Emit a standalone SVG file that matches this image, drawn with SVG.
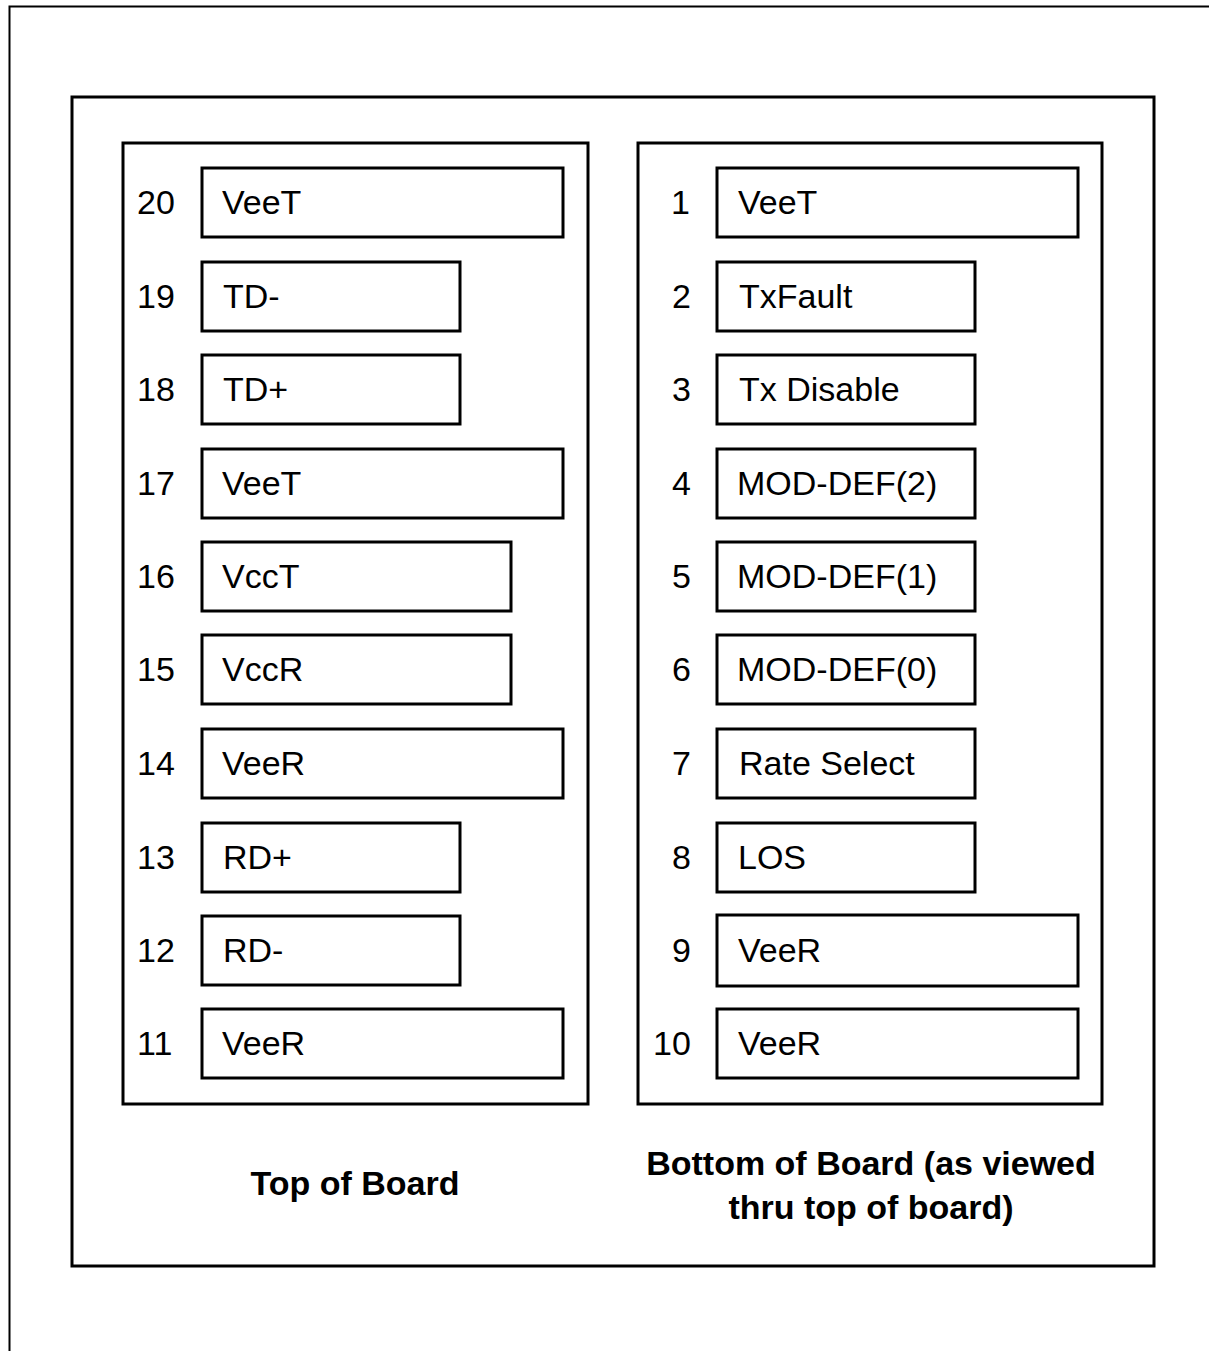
<svg xmlns="http://www.w3.org/2000/svg" width="1209" height="1351" viewBox="0 0 1209 1351">
<style>
.frame{fill:none;stroke:#000;stroke-width:3}
.pin{fill:#fff;stroke:#000;stroke-width:3}
.t{font-family:"Liberation Sans",Arial,sans-serif;font-size:34px;fill:#000}
.cap{font-family:"Liberation Sans",Arial,sans-serif;font-size:34px;font-weight:bold;fill:#000;text-anchor:middle}
</style>
<rect width="1209" height="1351" fill="#fff"/>
<path d="M9.5,1351 V6.5 H1209" fill="none" stroke="#000" stroke-width="2"/>
<rect class="frame" x="72" y="97" width="1082" height="1169"/>
<g id="top-board">
<rect class="frame" x="123" y="143" width="465" height="961"/>
<text class="cap" x="355" y="1195">Top of Board</text>
</g>
<g id="bottom-board">
<rect class="frame" x="638" y="143" width="464" height="961"/>
<text class="cap" x="871" y="1175">Bottom of Board (as viewed</text>
<text class="cap" x="871" y="1219">thru top of board)</text>
</g>
<g id="pin20"><rect class="pin" x="202" y="168" width="361" height="69"/><text class="t" x="137" y="214">20</text><text class="t" x="222" y="214">VeeT</text></g>
<g id="pin19"><rect class="pin" x="202" y="262" width="258" height="69"/><text class="t" x="137" y="308">19</text><text class="t" x="223" y="308">TD-</text></g>
<g id="pin18"><rect class="pin" x="202" y="355" width="258" height="69"/><text class="t" x="137" y="401">18</text><text class="t" x="223" y="401">TD+</text></g>
<g id="pin17"><rect class="pin" x="202" y="449" width="361" height="69"/><text class="t" x="137" y="495">17</text><text class="t" x="222" y="495">VeeT</text></g>
<g id="pin16"><rect class="pin" x="202" y="542" width="309" height="69"/><text class="t" x="137" y="588">16</text><text class="t" x="222" y="588">VccT</text></g>
<g id="pin15"><rect class="pin" x="202" y="635" width="309" height="69"/><text class="t" x="137" y="681">15</text><text class="t" x="222" y="681">VccR</text></g>
<g id="pin14"><rect class="pin" x="202" y="729" width="361" height="69"/><text class="t" x="137" y="775">14</text><text class="t" x="222" y="775">VeeR</text></g>
<g id="pin13"><rect class="pin" x="202" y="823" width="258" height="69"/><text class="t" x="137" y="869">13</text><text class="t" x="223" y="869">RD+</text></g>
<g id="pin12"><rect class="pin" x="202" y="916" width="258" height="69"/><text class="t" x="137" y="962">12</text><text class="t" x="223" y="962">RD-</text></g>
<g id="pin11"><rect class="pin" x="202" y="1009" width="361" height="69"/><text class="t" x="137" y="1055">11</text><text class="t" x="222" y="1055">VeeR</text></g>
<g id="pin1"><rect class="pin" x="717" y="168" width="361" height="69"/><text class="t" x="671" y="214">1</text><text class="t" x="738" y="214">VeeT</text></g>
<g id="pin2"><rect class="pin" x="717" y="262" width="258" height="69"/><text class="t" x="672" y="308">2</text><text class="t" x="739" y="308">TxFault</text></g>
<g id="pin3"><rect class="pin" x="717" y="355" width="258" height="69"/><text class="t" x="672" y="401">3</text><text class="t" x="739" y="401">Tx Disable</text></g>
<g id="pin4"><rect class="pin" x="717" y="449" width="258" height="69"/><text class="t" x="672" y="495">4</text><text class="t" x="737" y="495">MOD-DEF(2)</text></g>
<g id="pin5"><rect class="pin" x="717" y="542" width="258" height="69"/><text class="t" x="672" y="588">5</text><text class="t" x="737" y="588">MOD-DEF(1)</text></g>
<g id="pin6"><rect class="pin" x="717" y="635" width="258" height="69"/><text class="t" x="672" y="681">6</text><text class="t" x="737" y="681">MOD-DEF(0)</text></g>
<g id="pin7"><rect class="pin" x="717" y="729" width="258" height="69"/><text class="t" x="672" y="775">7</text><text class="t" x="739" y="775">Rate Select</text></g>
<g id="pin8"><rect class="pin" x="717" y="823" width="258" height="69"/><text class="t" x="672" y="869">8</text><text class="t" x="738" y="869">LOS</text></g>
<g id="pin9"><rect class="pin" x="717" y="915" width="361" height="71"/><text class="t" x="672" y="962">9</text><text class="t" x="738" y="962">VeeR</text></g>
<g id="pin10"><rect class="pin" x="717" y="1009" width="361" height="69"/><text class="t" x="653" y="1055">10</text><text class="t" x="738" y="1055">VeeR</text></g>
<g id="connectors"/>
</svg>
